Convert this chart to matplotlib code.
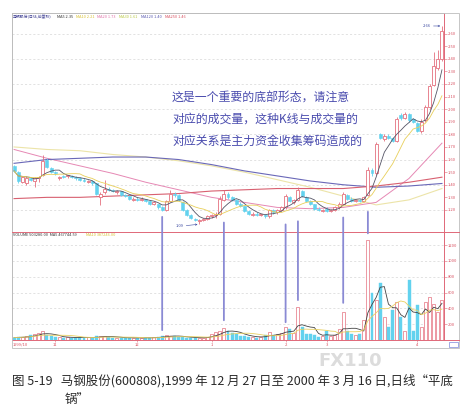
import matplotlib
matplotlib.use("Agg")
import matplotlib.pyplot as plt
import numpy as np
import pandas as pd
from matplotlib.patches import Rectangle, ConnectionPatch
from matplotlib.lines import Line2D

plt.rcParams['font.family'] = ['Noto Sans CJK SC', 'DejaVu Sans']

# ---------------- data ----------------
opens = [1.55, 1.50, 1.42, 1.41, 1.45, 1.43, 1.45, 1.48, 1.60, 1.53,
         1.50, 1.45, 1.47, 1.47, 1.47, 1.46, 1.45, 1.44, 1.42, 1.43,
         1.41, 1.30, 1.34, 1.37, 1.36, 1.34, 1.35, 1.32, 1.31, 1.28,
         1.29, 1.28, 1.29, 1.27, 1.25, 1.25, 1.22, 1.20, 1.27, 1.33,
         1.32, 1.26, 1.20, 1.16, 1.13, 1.11, 1.12, 1.13, 1.15, 1.16,
         1.17, 1.28, 1.33, 1.30, 1.28, 1.25, 1.23, 1.19, 1.16, 1.17,
         1.16, 1.16, 1.15, 1.20, 1.18, 1.20, 1.22, 1.30, 1.26, 1.28,
         1.35, 1.30, 1.27, 1.25, 1.21, 1.19, 1.21, 1.19, 1.20, 1.22,
         1.25, 1.32, 1.29, 1.27, 1.28, 1.27, 1.32, 1.52, 1.49, 1.80,
         1.76, 1.79, 1.77, 1.75, 1.95, 1.93, 1.96, 1.92, 1.89, 1.83,
         1.91, 2.02, 2.19, 2.33, 2.40]
highs = [1.56, 1.51, 1.47, 1.47, 1.46, 1.46, 1.47, 1.64, 1.61, 1.54,
         1.51, 1.47, 1.48, 1.48, 1.48, 1.47, 1.46, 1.45, 1.44, 1.44,
         1.41, 1.34, 1.44, 1.38, 1.37, 1.36, 1.35, 1.33, 1.32, 1.30,
         1.30, 1.30, 1.29, 1.28, 1.27, 1.25, 1.23, 1.28, 1.36, 1.34,
         1.33, 1.27, 1.21, 1.17, 1.14, 1.13, 1.14, 1.16, 1.17, 1.18,
         1.31, 1.36, 1.34, 1.31, 1.29, 1.26, 1.23, 1.20, 1.18, 1.18,
         1.17, 1.17, 1.21, 1.21, 1.21, 1.23, 1.33, 1.31, 1.29, 1.38,
         1.36, 1.31, 1.28, 1.25, 1.22, 1.21, 1.22, 1.21, 1.23, 1.26,
         1.34, 1.33, 1.30, 1.29, 1.29, 1.31, 1.54, 1.53, 1.74, 1.81,
         1.80, 1.80, 1.78, 1.94, 1.97, 1.98, 1.97, 1.93, 1.90, 1.92,
         2.03, 2.20, 2.45, 2.47, 2.66]
lows = [1.50, 1.41, 1.41, 1.40, 1.43, 1.38, 1.42, 1.47, 1.53, 1.49,
        1.48, 1.44, 1.45, 1.45, 1.45, 1.44, 1.43, 1.42, 1.41, 1.40,
        1.32, 1.24, 1.33, 1.35, 1.34, 1.33, 1.31, 1.30, 1.28, 1.27,
        1.27, 1.27, 1.26, 1.24, 1.24, 1.21, 1.19, 1.19, 1.26, 1.30,
        1.27, 1.19, 1.15, 1.13, 1.11, 1.09, 1.11, 1.12, 1.14, 1.14,
        1.16, 1.27, 1.29, 1.27, 1.24, 1.22, 1.18, 1.16, 1.15, 1.15,
        1.15, 1.14, 1.14, 1.17, 1.17, 1.19, 1.21, 1.26, 1.25, 1.27,
        1.30, 1.26, 1.24, 1.20, 1.19, 1.18, 1.18, 1.18, 1.19, 1.21,
        1.24, 1.28, 1.26, 1.26, 1.26, 1.26, 1.31, 1.47, 1.48, 1.76,
        1.75, 1.76, 1.74, 1.74, 1.91, 1.92, 1.90, 1.89, 1.82, 1.81,
        1.90, 2.00, 2.18, 2.31, 2.38]
closes = [1.51, 1.43, 1.46, 1.45, 1.44, 1.45, 1.46, 1.59, 1.54, 1.50,
          1.49, 1.46, 1.46, 1.47, 1.46, 1.45, 1.44, 1.43, 1.43, 1.41,
          1.33, 1.33, 1.37, 1.36, 1.35, 1.35, 1.32, 1.31, 1.29, 1.29,
          1.28, 1.29, 1.27, 1.25, 1.26, 1.22, 1.20, 1.27, 1.33, 1.32,
          1.28, 1.20, 1.16, 1.14, 1.12, 1.12, 1.13, 1.15, 1.16, 1.17,
          1.29, 1.33, 1.30, 1.28, 1.25, 1.23, 1.19, 1.17, 1.17, 1.16,
          1.16, 1.15, 1.20, 1.18, 1.20, 1.22, 1.31, 1.27, 1.28, 1.36,
          1.31, 1.27, 1.25, 1.21, 1.20, 1.20, 1.19, 1.20, 1.22, 1.25,
          1.33, 1.29, 1.27, 1.28, 1.27, 1.30, 1.52, 1.49, 1.72, 1.77,
          1.79, 1.77, 1.75, 1.92, 1.93, 1.96, 1.91, 1.90, 1.83, 1.90,
          2.02, 2.18, 2.34, 2.40, 2.62]
volumes = [30, 35, 40, 45, 60, 80, 90, 110, 60, 45,
           40, 35, 30, 35, 30, 30, 28, 30, 35, 30,
           45, 50, 55, 35, 30, 28, 30, 25, 28, 30,
           25, 28, 30, 25, 35, 40, 50, 60, 55, 45,
           40, 35, 30, 30, 28, 25, 30, 40, 80, 95,
           110, 150, 120, 90, 70, 55, 50, 40, 35, 30,
           40, 60, 100, 60, 80, 90, 160, 140, 90, 415,
           160, 80, 75, 60, 40, 45, 110, 50, 60, 140,
           350, 110, 80, 60, 70, 250, 1270, 600, 500, 720,
           290, 160, 380, 480, 290, 120, 760, 120, 445, 160,
           480, 540, 450, 350, 500]

# long moving averages read at every 8th session
ma_idx = [0, 8, 16, 24, 32, 40, 48, 56, 64, 72, 80, 88, 96, 104]
ma_pale = [1.70, 1.68, 1.67, 1.64, 1.62, 1.59, 1.55, 1.50, 1.44, 1.38, 1.31, 1.24, 1.28, 1.37]
ma_pink = [1.68, 1.61, 1.55, 1.49, 1.42, 1.36, 1.30, 1.26, 1.22, 1.21, 1.22, 1.26, 1.45, 1.73]
ma120 = [1.57, 1.60, 1.61, 1.62, 1.62, 1.60, 1.56, 1.51, 1.47, 1.43, 1.40, 1.38, 1.39, 1.41]
ma250 = [1.29, 1.30, 1.30, 1.31, 1.32, 1.33, 1.35, 1.36, 1.37, 1.37, 1.37, 1.39, 1.42, 1.46]

month_pos = [10, 30, 48, 66, 76, 98]
month_labels = ["11", "12", "1", "2", "3", "4"]

mark_idx = [36, 51, 66, 69, 80, 86]
mark_ptop = [1.145, 1.10, 1.085, 1.11, 1.14, 1.185]
mark_vbot = [125, 250, 225, 505, 470, 1350]

note_lines = ["这是一个重要的底部形态，请注意",
              "对应的成交量，这种K线与成交量的",
              "对应关系是主力资金收集筹码造成的"]
caption1 = "图 5-19   马钢股份(600808),1999 年 12 月 27 日至 2000 年 3 月 16 日,日线“平底"
caption2 = "锅”"

# ---------------- figure ----------------
W, H = 476, 408
fig = plt.figure(figsize=(W / 100, H / 100), dpi=100)
fig.patch.set_facecolor("white")


def fx(x):
    return x / W


def fy(y):
    return 1 - y / H


UP = "#e4707e"
DN = "#62d2ee"
GRID = "#d6d6d6"
RED = "#e06878"
TICK = "#d85060"

axp = fig.add_axes([fx(12), fy(232), (444 - 12) / W, (232 - 13) / H])
axv = fig.add_axes([fx(12), fy(340), (444 - 12) / W, (340 - 232) / H])

o = np.array(opens); h = np.array(highs); l = np.array(lows); c = np.array(closes)
v = np.array(volumes)
n = len(o)
idx = np.arange(n)
up = c >= o
blo = np.minimum(o, c)
bhi = np.maximum(o, c)
bh = np.maximum(bhi - blo, 0.004)

# grid
for g in np.arange(1.2, 2.7, 0.2):
    axp.axhline(g, color=GRID, lw=0.5, ls=(0, (3, 3)), zorder=0)
for g in range(200, 1300, 200):
    axv.axhline(g, color=GRID, lw=0.5, ls=(0, (3, 3)), zorder=0)

# long MAs
axp.plot(ma_idx, ma_pale, color="#ece4a8", lw=0.8, zorder=1)
axp.plot(ma_idx, ma_pink, color="#e688b4", lw=0.7, zorder=1)
axp.plot(ma_idx, ma120, color="#6a68b8", lw=0.8, zorder=1)
axp.plot(ma_idx, ma250, color="#d86070", lw=0.8, zorder=1)

# candles
axp.vlines(idx[up], bhi[up], h[up], color=UP, lw=0.6, zorder=3)
axp.vlines(idx[up], l[up], blo[up], color=UP, lw=0.6, zorder=3)
axp.vlines(idx[~up], l[~up], h[~up], color=DN, lw=0.6, zorder=3)
axp.bar(idx[up], bh[up], bottom=blo[up], width=0.72, facecolor="white",
        edgecolor=UP, linewidth=0.6, zorder=4)
axp.bar(idx[~up], bh[~up], bottom=blo[~up], width=0.72, facecolor=DN,
        edgecolor=DN, linewidth=0.4, zorder=4)

# short MAs from closes
cs = pd.Series(c)
axp.plot(idx, cs.rolling(5, min_periods=1).mean(), color="#555566", lw=0.6, zorder=5)
axp.plot(idx, cs.rolling(10, min_periods=1).mean(), color="#e8cf5a", lw=0.6, zorder=5)

axp.set_xlim(-0.5, n - 0.5)
axp.set_ylim(1.025, 2.763)
axp.yaxis.tick_right()
axp.set_yticks(np.round(np.arange(1.2, 2.65, 0.1), 2))
axp.set_yticklabels([f"{t:.2f}" for t in np.arange(1.2, 2.65, 0.1)])
axp.tick_params(axis="y", labelsize=3, labelcolor=TICK, color=RED, length=1.8,
                width=0.4, pad=1.2)
axp.set_xticks([])
for s in ["left", "top"]:
    axp.spines[s].set_color("#b8b8b8")
    axp.spines[s].set_linewidth(0.6)
axp.spines["right"].set_color(RED)
axp.spines["right"].set_linewidth(0.7)
axp.spines["bottom"].set_visible(False)

# extreme labels
axp.annotate("1.09", xy=(44.6, l[45] - 0.005), xytext=(40.2, 1.071),
             fontsize=3, color="#3a48a0", ha="center", va="center",
             arrowprops=dict(arrowstyle="->", lw=0.4, color="#3a48a0",
                             shrinkA=0, shrinkB=0))
axp.annotate("2.66", xy=(103.6, h[104]), xytext=(100.3, 2.66),
             fontsize=3, color="#3a48a0", ha="center", va="center",
             arrowprops=dict(arrowstyle="->", lw=0.4, color="#3a48a0",
                             shrinkA=0, shrinkB=0))

# volume
vs = pd.Series(v)
axv.bar(idx[up], v[up], width=0.72, facecolor="white", edgecolor=UP,
        linewidth=0.5, zorder=3)
axv.bar(idx[~up], v[~up], width=0.72, facecolor=DN, edgecolor=DN,
        linewidth=0.3, zorder=3)
axv.plot(idx, vs.rolling(5, min_periods=1).mean(), color="#444444", lw=0.6, zorder=4)
axv.plot(idx, vs.rolling(10, min_periods=1).mean(), color="#e8d060", lw=0.6, zorder=4)
axv.set_xlim(-0.5, n - 0.5)
axv.set_ylim(0, 1367)
axv.yaxis.tick_right()
axv.set_yticks(range(200, 1300, 200))
axv.tick_params(axis="y", labelsize=3, labelcolor=TICK, color=RED, length=1.8,
                width=0.4, pad=1.2)
axv.set_xticks(month_pos)
axv.set_xticklabels(month_labels)
axv.tick_params(axis="x", labelsize=3, labelcolor=TICK, color=RED, length=1.5,
                width=0.4, pad=1)
axv.spines["left"].set_color("#b8b8b8")
axv.spines["left"].set_linewidth(0.6)
axv.spines["top"].set_visible(False)
axv.spines["right"].set_color(RED)
axv.spines["right"].set_linewidth(0.7)
axv.spines["bottom"].set_color(RED)
axv.spines["bottom"].set_linewidth(0.7)
fig.text(fx(13), fy(345), "1999/10", fontsize=3, color=TICK, ha="left", va="center")

# vertical marker lines linking price and volume
for k in range(len(mark_idx)):
    con = ConnectionPatch(xyA=(mark_idx[k], mark_ptop[k]), coordsA=axp.transData,
                          xyB=(mark_idx[k], mark_vbot[k]), coordsB=axv.transData,
                          color="#8a8ad4", lw=1.3, zorder=6)
    fig.add_artist(con)

# frame & dividers
fig.add_artist(Rectangle((fx(12), fy(348)), (459 - 12) / W, (348 - 13) / H,
                         transform=fig.transFigure, fill=False,
                         edgecolor="#bdbdbd", lw=0.6))
fig.add_artist(Line2D([fx(12), fx(459)], [fy(232), fy(232)], color=RED, lw=0.7))
fig.add_artist(Line2D([fx(444), fx(459)], [fy(340), fy(340)], color=RED, lw=0.7))
fig.add_artist(Rectangle((fx(449), fy(347)), 9 / W, 5 / H, transform=fig.transFigure,
                         fill=False, edgecolor="#5a6ad0", lw=0.4))

# header texts
hdr = [(13, "马钢股份(日线,前复权)", "#3a3a90"), (57, "MA5 2.35", "#333333"),
       (76, "MA10 2.21", "#d8c030"), (97, "MA20 1.73", "#e070a8"),
       (119, "MA30 1.61", "#b8c840"), (141, "MA120 1.40", "#5858b0"),
       (165, "MA250 1.46", "#d85060")]
for x0, t, col in hdr:
    fig.text(fx(x0), fy(16.5), t, fontsize=2.8, color=col, ha="left", va="center")
fig.text(fx(13), fy(235.5), "VOLUME 503280.00  MA5 467744.59", fontsize=2.8,
         color="#333333", ha="left", va="center")
fig.text(fx(86), fy(235.5), "MA10 387246.00", fontsize=2.8, color="#d8c030",
         ha="left", va="center")

# note
for k, t in enumerate(note_lines):
    fig.text(fx(172), fy(98 + k * 21.5), t, fontsize=8.6, color="#4a4cae",
             ha="left", va="center")

# caption + watermark (watermark kept in the gap above the caption)
fig.text(fx(12), fy(381), caption1, fontsize=9.0, color="#2a2a2a", ha="left",
         va="center")
fig.text(fx(65), fy(399), caption2, fontsize=9.0, color="#2a2a2a", ha="left",
         va="center")
fig.text(fx(318), fy(360.5), "FX110", fontsize=13, fontweight="bold",
         family="DejaVu Sans", color="#dcdcdc", ha="left", va="center",
         zorder=1)

fig.savefig("out.png", dpi=100, facecolor="white")
